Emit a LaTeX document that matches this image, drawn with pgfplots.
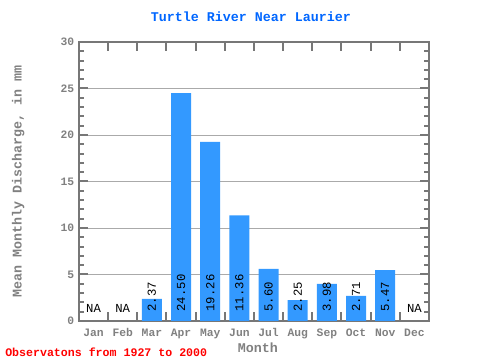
\documentclass[border=0pt]{standalone}
\usepackage{fontspec}
\setmainfont{Liberation Mono}
\setmonofont{Liberation Mono}
\usepackage{pgfplots}
\pgfplotsset{compat=1.18}
\definecolor{barblue}{HTML}{3399FF}
\definecolor{titleblue}{HTML}{0066FF}
\definecolor{axgray}{HTML}{777777}
\definecolor{txtgray}{HTML}{808080}
\definecolor{gridgray}{HTML}{AAAAAA}
\begin{document}
\begin{tikzpicture}[x=0.75pt,y=0.75pt]
\useasboundingbox (0,0) rectangle (480,360);
\begin{axis}[
  at={(59.25pt,29.25pt)}, anchor=south west,
  scale only axis, width=262.5pt, height=209.25pt,
  xmin=0.5, xmax=12.5, ymin=0, ymax=30,
  axis line style={draw=axgray, line width=1.5pt},
  /pgf/number format/assume math mode=true,
  ytick={0,5,...,30}, minor y tick num=4,
  major tick length=6.75pt, minor tick length=3.4pt,
  every tick/.style={draw=axgray, line width=1.5pt},
  ymajorgrids, major grid style={draw=gridgray, line width=0.6pt},
  yticklabel style={font=\bfseries\fontsize{8.5}{9}\selectfont, text=txtgray},
  xtick={1.5,2.5,...,11.5}, xticklabels={},
  extra x ticks={1,...,12},
  extra x tick labels={Jan,Feb,Mar,Apr,May,Jun,Jul,Aug,Sep,Oct,Nov,Dec},
  extra x tick style={major tick length=0pt, tick style={draw=none}, xticklabel style={anchor=base, yshift=-12pt, font=\bfseries\fontsize{8.5}{9}\selectfont, text=txtgray}},
  xlabel={Month},
  xlabel style={at={(axis description cs:0.511,-0.097)}, anchor=center, font=\bfseries\fontsize{10}{12}\selectfont, text=txtgray},
  ylabel={Mean Monthly Discharge, in mm},
  ylabel style={at={(axis description cs:-0.174,0.5)}, anchor=center, font=\bfseries\fontsize{10}{12}\selectfont, text=txtgray},
  title={Turtle River Near Laurier},
  every axis title shift=0pt,
  title style={at={(axis description cs:0.491,1.09)}, anchor=center, font=\bfseries\fontsize{10}{12}\selectfont, text=titleblue},
  clip=false,
]
\addplot[ybar, bar width=15pt, fill=barblue, draw=none] coordinates {
  (3,2.37) (4,24.50) (5,19.26) (6,11.36) (7,5.60) (8,2.25) (9,3.98) (10,2.71) (11,5.47)
};
\addplot[draw=none, mark=none, nodes near coords, point meta=explicit symbolic,
  nodes near coords style={rotate=90, anchor=west, inner sep=0pt, font=\fontsize{9.2}{10}\selectfont, text=black}]
  table[meta=lab] {
x y lab
3 1 2.37
4 1 24.50
5 1 19.26
6 1 11.36
7 1 5.60
8 1 2.25
9 1 3.98
10 1 2.71
11 1 5.47
};
\addplot[draw=none, mark=none, nodes near coords, point meta=explicit symbolic,
  nodes near coords style={anchor=center, inner sep=0pt, font=\fontsize{9.2}{10}\selectfont, text=black}]
  table[meta=lab] {
x y lab
1 1.4 NA
2 1.4 NA
12 1.4 NA
};
\end{axis}
\node[anchor=west, text=red, font=\bfseries\fontsize{8.7}{10}\selectfont, inner sep=0pt] at (5,8) {Observatons from 1927 to 2000};
\end{tikzpicture}
\end{document}
